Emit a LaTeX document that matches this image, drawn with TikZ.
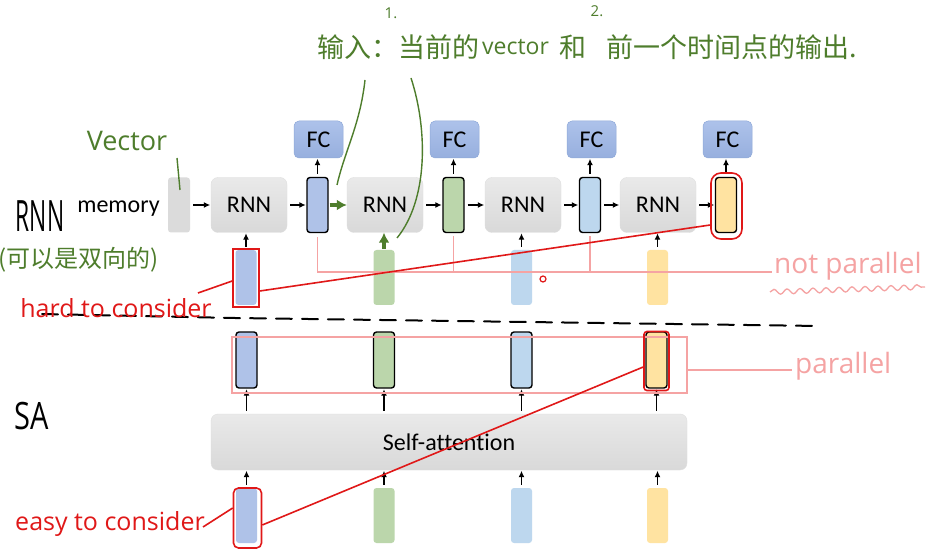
\documentclass[tikz,border=0pt]{standalone}
\usepackage{fontspec}
\usepackage{graphicx}
\setmainfont{Carlito}[Ligatures={NoCommon}]
\newfontfamily\hand{Open Sans}
\newfontfamily\cjk{Noto Sans CJK SC}
\usetikzlibrary{arrows.meta,decorations.pathmorphing}
\definecolor{cdblue}{HTML}{AFC2E8}
\definecolor{cgreen}{HTML}{BBD6AB}
\definecolor{clblue}{HTML}{BDD7EE}
\definecolor{cyellow}{HTML}{FFE3A1}
\definecolor{fctop}{HTML}{ADC2EA}
\definecolor{fcbot}{HTML}{97AFDE}
\definecolor{fcdraw}{HTML}{8FA9D8}
\definecolor{hgreen}{HTML}{4E7D2C}
\definecolor{hred}{HTML}{E01818}
\definecolor{hpink}{HTML}{F5A3A3}
\begin{document}
\begin{tikzpicture}[x=1pt,y=-1pt,
  rnnbox/.style={rounded corners=7pt, top color=gray!17, bottom color=gray!30, draw=gray!25, line width=0.4pt, minimum width=76pt, minimum height=55pt, inner sep=0pt, font=\fontsize{24}{24}\selectfont},
  sabox/.style={rnnbox, minimum width=476pt, minimum height=56pt},
  membox/.style={rounded corners=3pt, fill=gray!28, minimum width=22pt, minimum height=55pt, inner sep=0pt},
  fcbox/.style={rounded corners=5pt, top color=fctop, bottom color=fcbot, draw=fcdraw, line width=0.5pt, minimum width=49pt, minimum height=37pt, inner sep=0pt, font=\fontsize{24}{24}\selectfont},
  vecbox/.style={rounded corners=3pt, minimum width=21pt, minimum height=55pt, inner sep=0pt},
  outvec/.style={vecbox, draw=black, line width=1.4pt},
  invec/.style={vecbox},
  arr/.style={-{Latex[length=6.5pt,width=6pt]}, line width=1.3pt, shorten <=3pt, shorten >=0.5pt},
  garr/.style={-{Latex[length=10pt,width=11pt]}, line width=3.4pt, draw=hgreen, shorten <=1pt},
  pinkl/.style={draw=hpink, line width=1.3pt},
  redl/.style={draw=hred, line width=1.6pt},
  gline/.style={draw=hgreen, line width=1.4pt},
  redtext/.style={text=hred, inner sep=0pt, font=\hand\fontsize{25}{25}\selectfont},
  pinktext/.style={text=hpink, inner sep=0pt, font=\hand\fontsize{28}{28}\selectfont},
  gtext/.style={text=hgreen, inner sep=0pt, font=\hand\fontsize{27}{27}\selectfont},
  cjktext/.style={text=hgreen, inner sep=0pt, font=\cjk\fontsize{27}{27}\selectfont},
  bktext/.style={text=black, inner sep=0pt, font=\hand\fontsize{24}{24}\selectfont}
]
\fill[white] (0,0) rectangle (929,553);
\useasboundingbox (0,0) rectangle (929,553);

% ---------- RNN row ----------
\node[membox] (mem) at (179,205) {};
\node[font=\fontsize{24}{24}\selectfont] (memtxt) at (118.5,209) {memory};
\node[rnnbox] (r1) at (249,205) {RNN};
\node[outvec, fill=cdblue] (h1) at (317.5,205) {};
\node[rnnbox] (r2) at (385,205) {RNN};
\node[outvec, fill=cgreen] (h2) at (453.5,205) {};
\node[rnnbox] (r3) at (523,205) {RNN};
\node[outvec, fill=clblue] (h3) at (590,205) {};
\node[rnnbox] (r4) at (658,205) {RNN};
\node[outvec, fill=cyellow] (h4) at (726,205) {};

\node[fcbox] (f1) at (318.5,139.5) {FC};
\node[fcbox] (f2) at (454.5,139.5) {FC};
\node[fcbox] (f3) at (591.5,139.5) {FC};
\node[fcbox] (f4) at (727.5,139.5) {FC};

\node[invec, fill=cdblue] (x1) at (246,277.5) {};
\node[invec, fill=cgreen] (x2) at (384,277.5) {};
\node[invec, fill=clblue] (x3) at (521.5,277.5) {};
\node[invec, fill=cyellow] (x4) at (657.5,277.5) {};

\foreach \h/\f in {h1/f1,h2/f2,h3/f3,h4/f4}
  \draw[arr] (\h.north) -- (\h.north |- \f.south);
\foreach \x/\r in {x1/r1,x3/r3,x4/r4}
  \draw[arr] (\x.north) -- (\x.north |- \r.south);
\draw[arr] (mem.east) -- (r1.west);
\draw[arr] (r1.east) -- (h1.west);
\draw[arr] (r2.east) -- (h2.west);
\draw[arr] (h2.east) -- (r3.west);
\draw[arr] (r3.east) -- (h3.west);
\draw[arr] (h3.east) -- (r4.west);
\draw[arr] (r4.east) -- (h4.west);
\draw[garr] (h1.east) -- (r2.west);
\draw[garr] (x2.north) -- (x2.north |- r2.south);

% ---------- SA row ----------
\node[outvec, fill=cdblue, minimum height=56pt] (o1) at (246.5,360) {};
\node[outvec, fill=cgreen, minimum height=56pt] (o2) at (384,360) {};
\node[outvec, fill=clblue, minimum height=56pt] (o3) at (521.5,360) {};
\node[outvec, fill=cyellow, minimum height=56pt] (o4) at (656.5,360) {};
\node[sabox] (sa) at (449,442) {Self-attention};
\node[invec, fill=cdblue] (s1) at (246.5,515.5) {};
\node[invec, fill=cgreen] (s2) at (384,515.5) {};
\node[invec, fill=clblue] (s3) at (521.5,515.5) {};
\node[invec, fill=cyellow] (s4) at (657.5,515.5) {};
\foreach \s/\o in {s1/o1,s2/o2,s3/o3,s4/o4}{
  \draw[arr] (\s.north) -- (\s.north |- sa.south);
  \draw[arr] (\o.south |- sa.north) -- (\o.south);
}

% ---------- dashed separator ----------
\coordinate (dA) at (42,314);
\coordinate (dB) at (235,318);
\coordinate (dC) at (820,326);
\draw[black, line width=2pt, dash pattern=on 16pt off 10pt, line cap=round] (dA) -- (dB) -- (dC);

% ---------- pink annotations ----------
\coordinate (np) at (772,272);
\draw[pinkl] ([yshift=-4pt]h1.south) -- (h1.south |- np) -- (np);
\draw[pinkl] ([yshift=-3pt]h2.south) -- (h2.south |- np);
\draw[pinkl] ([yshift=-3pt]h3.south) -- (h3.south |- np);
\node[pinktext, anchor=west] (nptxt) at (774,266) {not parallel};
\draw[pinkl, decorate, decoration={snake, amplitude=2.5pt, segment length=13pt}] (770,292) -- (925,287);

\node[pinkl, minimum width=455pt, minimum height=56pt, inner sep=0pt] (par) at (459.5,365) {};
\coordinate (parend) at (792,370);
\draw[pinkl] ([yshift=-5pt]par.east) -- (parend);
\node[pinktext, anchor=west] (partxt) at (795,366) {parallel};

% ---------- red annotations ----------
\node[redl, minimum width=26pt, minimum height=58pt, inner sep=0pt] (hx1) at (246,278) {};
\node[redl, rounded corners=10pt, minimum width=31pt, minimum height=66pt, inner sep=0pt] (hr4) at (726.5,206) {};
\draw[redl] ([yshift=-13pt]hx1.east) -- ([yshift=-19pt]hr4.west);
\node[redtext] (hard) at (116,308) {hard to consider};
\draw[redl] (198,293) -- (hx1.west |- 0,281);

\node[redl, rounded corners=5pt, minimum width=28pt, minimum height=60pt, inner sep=0pt] (es1) at (247.5,518) {};
\node[redl, rounded corners=3pt, minimum width=25pt, minimum height=59pt, inner sep=0pt] (eo4) at (656.5,361) {};
\draw[redl] ([yshift=-7pt]es1.east) -- ([yshift=-6pt]eo4.west);
\node[redtext] (easy) at (110,524) {easy to consider};
\draw[redl] (203,527) -- (es1.west |- 0,508);

\draw[hred, line width=1.2pt] (543,279) circle (3pt);

% ---------- green annotations ----------
\node[gtext] (vectxt) at (127,141) {Vector};
\draw[gline] (177,158) -- (180,190);
\node[cjktext, anchor=west] (t1) at (317,47) {输入：当前的};
\node[gtext, anchor=west, font=\hand\fontsize{23}{23}\selectfont] (t2) at (482,47) {vector};
\node[cjktext, anchor=west] (t3) at (559,47) {和};
\node[cjktext, anchor=west] (t4) at (606,47) {前一个时间点的输出.};
\node[gtext, font=\hand\fontsize{15}{15}\selectfont] (n1) at (391,13) {1.};
\node[gtext, font=\hand\fontsize{15}{15}\selectfont] (n2) at (597,11) {2.};
\draw[gline] (365,80) .. controls (360,125) and (345,150) .. (337,185);
\draw[gline] (411,78) .. controls (428,130) and (428,200) .. (397,238);
\node[cjktext, font=\cjk\fontsize{24}{24}\selectfont] (bidir) at (79,260) {(可以是双向的)};

% ---------- black handwriting ----------
\node[bktext] (rnnlab) at (40,216) {\scalebox{0.95}[1.8]{RNN}};
\node[bktext, font=\hand\fontsize{29}{29}\selectfont] (salab) at (32,416) {\scalebox{1}[1.3]{SA}};
\end{tikzpicture}
\end{document}
